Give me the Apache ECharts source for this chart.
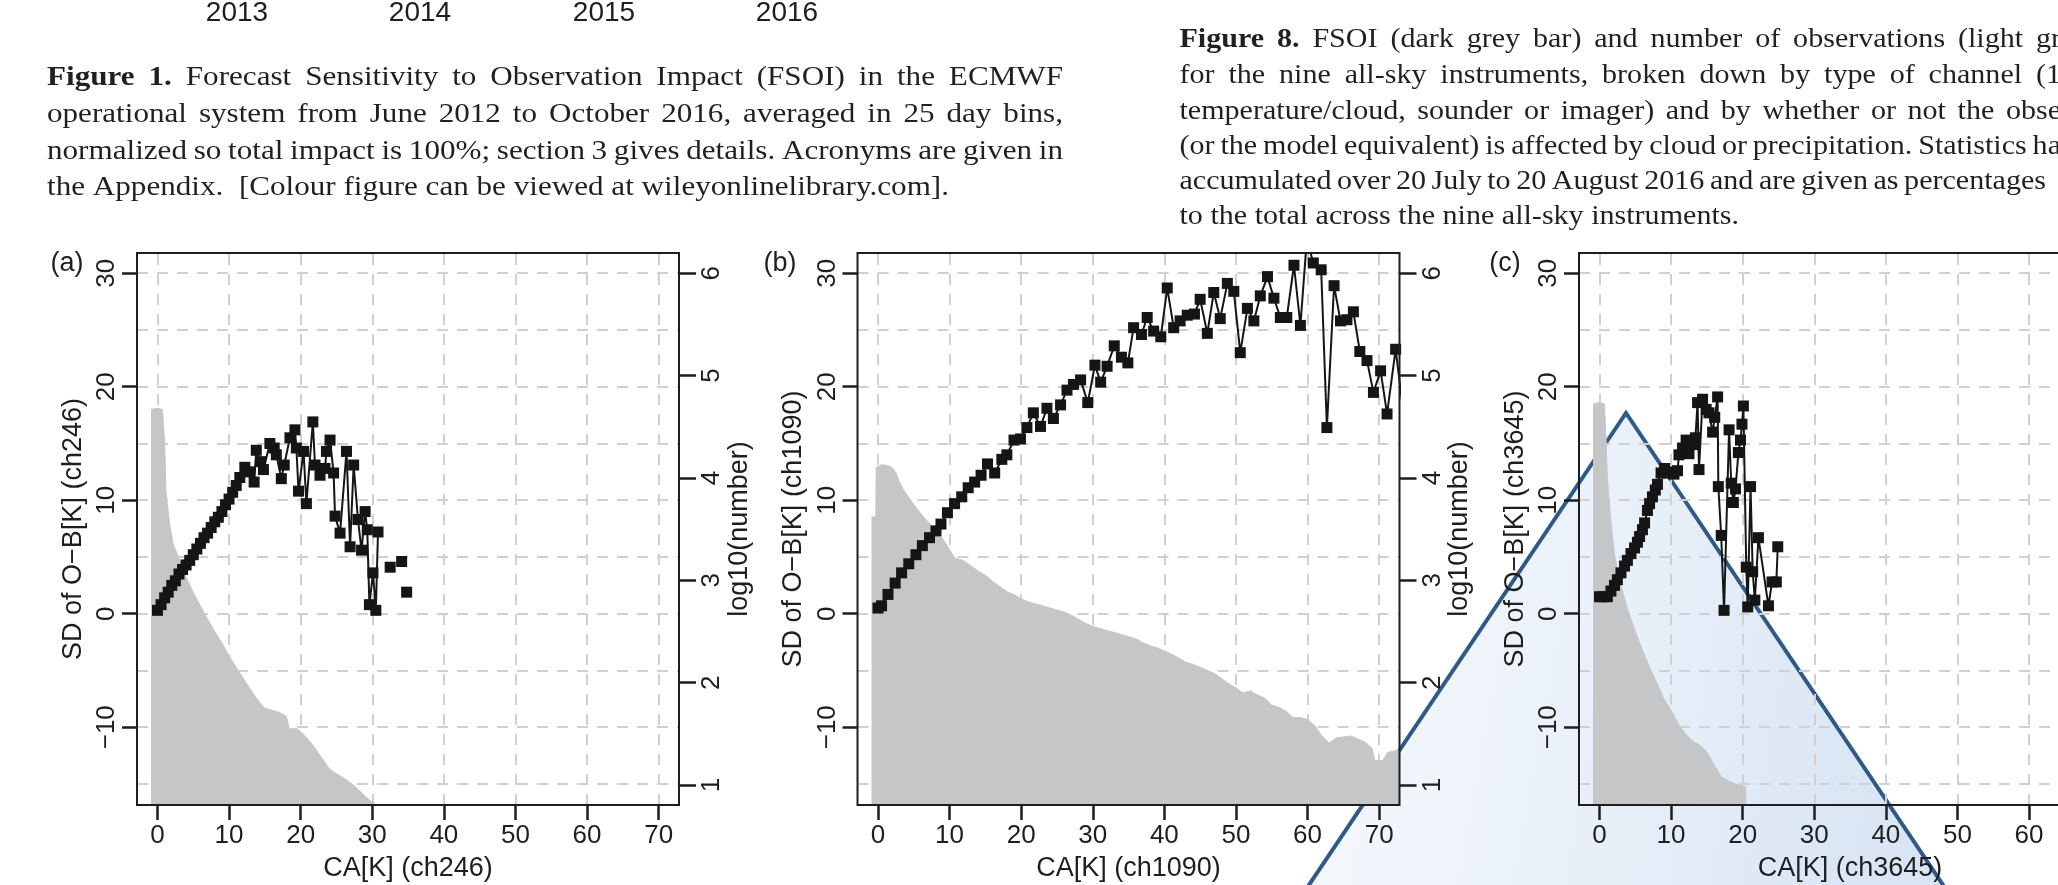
<!DOCTYPE html>
<html><head><meta charset="utf-8">
<style>html,body{margin:0;padding:0;background:#fff;overflow:hidden}#c{width:2058px;height:885px}</style>
<script src="https://cdn.jsdelivr.net/npm/echarts@6/dist/echarts.min.js"></script>
</head><body><div id="c"></div>
<script>
// ---------------- data ----------------
const yearLabels = ['2013', '2014', '2015', '2016'];
const fig1Lines = [
  'Figure 1. Forecast Sensitivity to Observation Impact (FSOI) in the ECMWF',
  'operational system from June 2012 to October 2016, averaged in 25 day bins,',
  'normalized so total impact is 100%; section 3 gives details. Acronyms are given in',
  'the Appendix.  [Colour figure can be viewed at wileyonlinelibrary.com].'
];
const fig8Lines = [
  'Figure 8. FSOI (dark grey bar) and number of observations (light gr',
  'for the nine all-sky instruments, broken down by type of channel (1',
  'temperature/cloud, sounder or imager) and by whether or not the obse',
  '(or the model equivalent) is affected by cloud or precipitation. Statistics ha',
  'accumulated over 20 July to 20 August 2016 and are given as percentages',
  'to the total across the nine all-sky instruments.'
];
const panelLetters = ['(a)', '(b)', '(c)'];
const channels = ['ch246', 'ch1090', 'ch3645'];
const xTicks = [0, 10, 20, 30, 40, 50, 60, 70];
const leftTicks = [-10, 0, 10, 20, 30];
const rightTicks = [1, 2, 3, 4, 5, 6];
const xGridValues = [0, 10, 20, 30, 40, 50, 60, 70];
const yGridValues = [-15, -10, -5, 0, 5, 10, 15, 20, 25, 30];

// log10(number) per CA bin (grey)
const countA = [[-0.9,4.67],[0,4.68],[0.7,4.67],[1.0,4.35],[1.2,3.85],[1.7,3.55],[2.2,3.35],[3,3.22],[4,3.03],[5,2.88],[6,2.75],[7,2.62],[8,2.5],[9,2.39],[10,2.26],[11,2.15],[12,2.04],[13,1.93],[14,1.83],[15,1.75],[16,1.73],[17,1.71],[18,1.67],[18.4,1.55],[19.5,1.55],[20,1.52],[21,1.45],[22,1.36],[23,1.26],[24,1.16],[25,1.11],[26,1.07],[27,1.02],[28,0.96],[29,0.89],[30,0.83],[30.4,0.81]];
const countB = [[-0.9,3.62],[-0.3,3.62],[-0.25,4.1],[0.5,4.13],[1.5,4.12],[2,4.1],[2.5,4.05],[3,3.96],[3.5,3.89],[4,3.84],[5,3.74],[6,3.65],[7,3.57],[8,3.49],[9,3.41],[10,3.3],[10.7,3.22],[12,3.19],[13,3.14],[14,3.09],[15,3.05],[16,2.99],[17,2.94],[18,2.89],[19,2.86],[20,2.82],[21,2.79],[22,2.77],[23,2.75],[24,2.73],[25,2.71],[26,2.69],[27,2.66],[28,2.62],[29,2.58],[30,2.55],[31,2.53],[32,2.51],[33,2.49],[34,2.47],[35,2.45],[36,2.43],[37,2.39],[38,2.36],[39,2.34],[40,2.31],[41,2.28],[42,2.24],[43,2.2],[44,2.18],[45,2.15],[46,2.12],[47,2.09],[48,2.04],[49,1.99],[50,1.95],[51,1.9],[52,1.92],[53,1.88],[54,1.85],[55,1.78],[56,1.76],[57,1.72],[58,1.66],[59,1.66],[60,1.64],[61,1.58],[62,1.48],[63,1.41],[64,1.46],[65,1.47],[66,1.48],[67,1.45],[68,1.42],[69,1.36],[69.4,1.24],[70.5,1.24],[71.2,1.32],[72,1.33],[73,1.35]];
const countC = [[-0.9,4.72],[0,4.74],[0.7,4.72],[0.9,4.4],[1.1,4.0],[1.5,3.65],[2,3.3],[2.5,3.1],[3,2.95],[3.5,2.82],[4,2.7],[4.5,2.6],[5,2.5],[6,2.32],[7,2.15],[8,2.0],[9,1.84],[10,1.73],[11,1.6],[12,1.5],[13,1.43],[14,1.39],[15,1.32],[16,1.2],[17,1.08],[18,1.04],[19,1.01],[20,0.99],[20.4,0.98],[20.45,0.81]];

// SD of O-B [K] (black squares)
const sdA = [[0,0.3],[0.5,0.8],[1,1.4],[1.5,1.9],[2,2.5],[2.5,2.9],[3,3.5],[3.5,3.9],[4,4.3],[4.5,4.7],[5,5.2],[5.5,5.7],[6,6.2],[6.5,6.7],[7,7.1],[7.5,7.6],[8,8.1],[8.5,8.5],[9,9.0],[9.5,9.6],[10,10.1],[10.5,10.7],[11,11.3],[11.5,12.0],[12.2,12.9],[12.9,12.5],[13.5,11.6],[13.8,14.4],[14.4,13.4],[14.8,12.7],[15.7,15.0],[16.3,14.6],[16.6,14.0],[17.3,11.9],[17.7,13.1],[18.5,15.5],[19.2,16.2],[19.4,14.6],[19.7,10.8],[20.4,14.3],[20.8,9.7],[21.7,16.9],[22.0,13.1],[22.7,12.2],[23.4,12.8],[23.6,14.3],[24.1,15.3],[24.6,12.4],[24.8,8.6],[25.5,7.1],[26.4,14.3],[26.9,5.9],[27.4,13.1],[28.0,8.3],[28.5,5.6],[29.0,9.0],[29.3,7.4],[29.6,0.8],[30.1,3.6],[30.5,0.3],[30.8,7.2],[31.6,'-'],[32.5,4.1],[33.3,'-'],[34.1,4.6],[34.5,'-'],[34.8,1.9]];
const sdB = [[0,0.5],[0.5,0.7],[1.4,1.7],[2.4,2.7],[3.3,3.6],[4.3,4.4],[5.3,5.2],[6.2,6.0],[7.2,6.7],[8.1,7.3],[8.8,7.9],[9.7,8.9],[10.7,9.7],[11.7,10.3],[12.6,11.1],[13.5,11.6],[14.4,12.2],[15.3,13.2],[16.3,12.4],[17.3,13.6],[18.0,14.0],[19.0,15.3],[19.9,15.4],[20.8,16.4],[21.7,17.7],[22.7,16.5],[23.6,18.1],[24.5,17.2],[25.5,18.4],[26.4,19.7],[27.3,20.2],[28.3,20.6],[29.3,18.6],[30.3,21.9],[31.1,20.4],[32.0,21.8],[33.0,23.6],[34.0,22.6],[34.9,22.1],[35.7,25.2],[36.8,24.6],[37.6,26.1],[38.5,24.9],[39.5,24.4],[40.4,28.7],[41.3,25.2],[42.2,25.8],[43.2,26.3],[44.2,26.4],[45.0,27.7],[46.0,24.7],[46.9,28.3],[47.8,26.0],[48.8,29.1],[49.7,28.4],[50.6,23.0],[51.6,26.9],[52.5,25.8],[53.4,28.0],[54.4,29.7],[55.3,27.8],[56.2,26.1],[57.1,26.1],[58.1,30.7],[59.0,25.4],[59.9,33.0],[60.8,30.9],[61.9,30.3],[62.7,16.4],[63.7,28.9],[64.6,25.8],[65.5,25.9],[66.4,26.6],[67.3,23.1],[68.3,22.3],[69.2,19.5],[70.2,21.4],[71.1,17.6],[72.3,23.3],[73.2,18.7]];
const sdC = [[0,1.5],[0.5,1.5],[1.1,1.5],[1.6,2.0],[2.1,2.5],[2.5,3.0],[3.0,3.6],[3.5,4.2],[3.9,4.7],[4.4,5.3],[4.9,5.8],[5.3,6.3],[5.6,6.8],[6.0,7.4],[6.3,8.0],[6.7,9.1],[7.0,9.7],[7.4,10.3],[7.8,10.9],[8.1,11.4],[8.6,12.4],[9.1,12.8],[9.5,12.4],[10.0,12.5],[10.4,12.3],[10.9,12.6],[11.1,14.0],[11.6,14.6],[12.1,15.3],[12.5,14.1],[13.0,14.9],[13.4,15.5],[13.7,18.6],[13.9,12.7],[14.4,18.9],[14.9,18.0],[15.3,17.7],[15.8,16.0],[16.1,17.3],[16.5,19.1],[16.6,11.2],[17.0,6.9],[17.4,0.3],[18.1,16.2],[18.4,11.5],[18.7,9.8],[19.0,11.0],[19.4,14.2],[19.7,15.3],[19.9,16.7],[20.1,18.3],[20.5,4.1],[20.7,0.6],[21.1,11.2],[21.4,3.7],[21.7,1.2],[22.2,6.7],[23.6,0.7],[24.1,2.8],[24.7,2.8],[24.9,5.9]];

const counts = [countA, countB, countC];
const sds = [sdA, sdB, sdC];

// ---------------- layout / style ----------------
const SANS = '"Liberation Sans", Arial, sans-serif';
const SERIF = '"Liberation Serif", "Times New Roman", serif';
const INK = '#1e1e1e';
const gridLefts = [137, 857.5, 1579];
const gridTop = 253, gridW = 542, gridH = 552;
const letterX = [67, 780, 1505];

const mctx = document.createElement('canvas').getContext('2d');
function tw(s, bold) { mctx.font = (bold ? 'bold ' : '') + '28px ' + SERIF; return mctx.measureText(s).width; }

function layoutLine(str, x0, x1, y, justify, k, boldCount) {
  const words = str.split(' ');
  const widths = words.map((w, i) => tw(w, i < boldCount) * k);
  const sum = widths.reduce((a, b) => a + b, 0);
  const gap = justify ? (x1 - x0 - sum) / (words.length - 1) : tw(' ', false) * k;
  const els = [];
  let x = x0;
  words.forEach((w, i) => {
    if (w) els.push({ type: 'text', x: x, y: y, scaleX: k, silent: true, z: 20,
      style: { text: w, fontSize: 28, fontFamily: SERIF, fontWeight: i < boldCount ? 'bold' : 'normal',
               fill: '#231f20', verticalAlign: 'middle', align: 'left' } });
    x += widths[i] + gap;
  });
  return els;
}
function natural(str) { return str.split(' ').reduce((a, w, i, arr) => a + tw(w, false) + (i < arr.length - 1 ? tw(' ', false) : 0), 0); }

const k1 = Math.min(1.15, Math.max(0.8, (949 - 47) / natural(fig1Lines[3])));
const k8 = Math.min(1.15, Math.max(0.8, (1739 - 1179.5) / natural(fig8Lines[5])));

const graphics = [];
// overlay triangle (behind the plots)
graphics.push({ type: 'polygon', silent: true, z: -20,
  shape: { points: [[1626, 413], [1010, 1330], [2242, 1330]] },
  style: { fill: { type: 'linear', x: 0, y: 0, x2: 1, y2: 0.25, colorStops: [
    { offset: 0, color: 'rgba(255,255,255,0)' },
    { offset: 0.35, color: 'rgba(240,245,251,0.9)' },
    { offset: 0.7, color: 'rgba(220,231,245,1)' },
    { offset: 1, color: 'rgba(208,222,240,1)' }] } } });
graphics.push({ type: 'polyline', silent: true, z: -19,
  shape: { points: [[1010, 1330], [1626, 413], [2242, 1330]] },
  style: { stroke: '#2f5a88', lineWidth: 4, fill: null } });

const fig1Y = [78, 115, 152, 188];
fig1Lines.forEach((l, i) => graphics.push(...layoutLine(l, 47, 1063, fig1Y[i], i < 3, k1, i === 0 ? 2 : 0)));
const fig8Y = [40, 76, 112, 147, 182, 217];
const fig8End = [2061, 2061, 2061, 2061, 2046, 0];
fig8Lines.forEach((l, i) => graphics.push(...layoutLine(l, 1179.5, fig8End[i], fig8Y[i], i < 5, k8, i === 0 ? 2 : 0)));
const yearX = [237, 420, 604, 787];
yearLabels.forEach((t, i) => graphics.push({ type: 'text', x: yearX[i], y: 13, silent: true, z: 20,
  style: { text: t, fontSize: 28, fontFamily: SANS, fill: INK, align: 'center', verticalAlign: 'middle' } }));
panelLetters.forEach((t, i) => graphics.push({ type: 'text', x: letterX[i], y: 264, silent: true, z: 20,
  style: { text: t, fontSize: 27, fontFamily: SANS, fill: INK, align: 'center', verticalAlign: 'middle' } }));

const grid = gridLefts.map(l => ({ left: l, top: gridTop, width: gridW, height: gridH, show: true,
  borderColor: INK, borderWidth: 2, backgroundColor: 'transparent', z: 6, outerBoundsMode: 'none', containLabel: false }));

const tickStyle = { color: INK, width: 2.5 };
const labelBase = { fontSize: 26, color: INK, fontFamily: SANS };
const nameStyle = { fontSize: 27, color: INK, fontFamily: SANS };
const minus = v => String(v).replace('-', '\u2212');
const noLine = { show: false, onZero: false };

const xAxis = [0, 1, 2].map(i => ({
  type: 'value', gridIndex: i, min: -2.86, max: 72.84, z: 6,
  axisLine: noLine, splitLine: { show: false },
  axisTick: { show: true, length: 15, customValues: xTicks, lineStyle: tickStyle },
  axisLabel: Object.assign({ customValues: xTicks, margin: 18 }, labelBase),
  name: 'CA[K] (' + channels[i] + ')', nameLocation: 'middle', nameGap: 50, nameTextStyle: nameStyle
}));
const yAxis = [];
[0, 1, 2].forEach(i => {
  yAxis.push({ type: 'value', gridIndex: i, position: 'left', min: -16.85, max: 31.78, z: 6,
    axisLine: noLine, splitLine: { show: false },
    axisTick: { show: true, length: 15, customValues: leftTicks, lineStyle: tickStyle },
    axisLabel: Object.assign({ customValues: leftTicks, rotate: 90, margin: 17, formatter: minus }, labelBase),
    name: 'SD of O\u2212B[K] (' + channels[i] + ')', nameLocation: 'middle', nameGap: 50, nameTextStyle: nameStyle });
  yAxis.push({ type: 'value', gridIndex: i, position: 'right', min: 0.805, max: 6.198, z: 6,
    axisLine: noLine, splitLine: { show: false },
    axisTick: { show: true, length: 17, customValues: rightTicks, lineStyle: tickStyle },
    axisLabel: Object.assign({ customValues: rightTicks, rotate: 90, margin: 20 }, labelBase),
    name: 'log10(number)', nameLocation: 'middle', nameGap: 45, nameTextStyle: nameStyle });
});

const series = [];
[0, 1, 2].forEach(i => {
  series.push({ type: 'line', xAxisIndex: i, yAxisIndex: 2 * i, data: [], silent: true,
    markLine: { silent: true, z: 1, animation: false, symbol: ['none', 'none'], label: { show: false },
      emphasis: { disabled: true },
      lineStyle: { color: '#d0d0d0', width: 2, type: [11, 9] },
      data: xGridValues.map(v => ({ xAxis: v })).concat(yGridValues.map(v => ({ yAxis: v }))) } });
  series.push({ type: 'line', xAxisIndex: i, yAxisIndex: 2 * i + 1, data: counts[i], z: 2, silent: true,
    symbol: 'none', lineStyle: { color: '#c5c6c8', width: 1 },
    areaStyle: { color: '#c5c6c8', opacity: 1, origin: 'start' } });
  series.push({ type: 'line', xAxisIndex: i, yAxisIndex: 2 * i, data: sds[i], z: 3, silent: true,
    symbol: 'rect', symbolSize: 11, showAllSymbol: true, connectNulls: false,
    itemStyle: { color: '#151515' }, lineStyle: { color: '#151515', width: 2 } });
});

const chart = echarts.init(document.getElementById('c'), null, { renderer: 'canvas', width: 2058, height: 885 });
chart.setOption({ animation: false, backgroundColor: '#ffffff', grid, xAxis, yAxis, series, graphic: { elements: graphics } });
</script></body></html>
